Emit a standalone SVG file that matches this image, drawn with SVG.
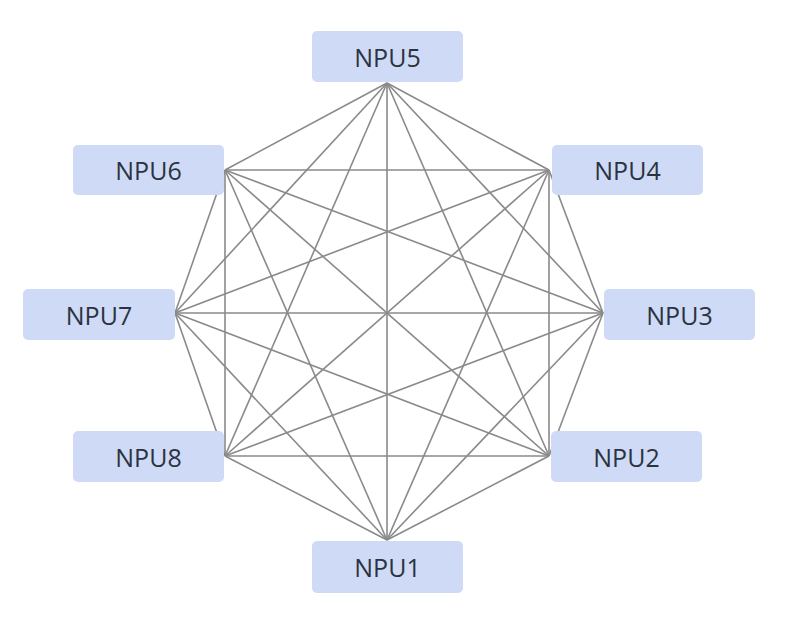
<svg xmlns="http://www.w3.org/2000/svg" width="792" height="640" viewBox="0 0 792 640">
<style>
.box{fill:#cfdbf6;}
.lbl{font-family:"Open Sans","Noto Sans",sans-serif;font-size:25px;fill:#2b3340;text-anchor:middle;dominant-baseline:central;}
.e{stroke:#8a8a8a;stroke-width:1.6;fill:none;}
</style>
<rect width="792" height="640" fill="#ffffff"/>
<g id="connectors">
<line class="e" x1="387" y1="540" x2="549" y2="456"/>
<line class="e" x1="387" y1="540" x2="603" y2="313"/>
<line class="e" x1="387" y1="540" x2="549" y2="170"/>
<line class="e" x1="387" y1="540" x2="387" y2="83"/>
<line class="e" x1="387" y1="540" x2="225" y2="170"/>
<line class="e" x1="387" y1="540" x2="175" y2="313"/>
<line class="e" x1="387" y1="540" x2="225" y2="456"/>
<line class="e" x1="549" y1="456" x2="603" y2="313"/>
<line class="e" x1="549" y1="456" x2="549" y2="170"/>
<line class="e" x1="549" y1="456" x2="387" y2="83"/>
<line class="e" x1="549" y1="456" x2="225" y2="170"/>
<line class="e" x1="549" y1="456" x2="175" y2="313"/>
<line class="e" x1="549" y1="456" x2="225" y2="456"/>
<line class="e" x1="603" y1="313" x2="549" y2="170"/>
<line class="e" x1="603" y1="313" x2="387" y2="83"/>
<line class="e" x1="603" y1="313" x2="225" y2="170"/>
<line class="e" x1="603" y1="313" x2="175" y2="313"/>
<line class="e" x1="603" y1="313" x2="225" y2="456"/>
<line class="e" x1="549" y1="170" x2="387" y2="83"/>
<line class="e" x1="549" y1="170" x2="225" y2="170"/>
<line class="e" x1="549" y1="170" x2="175" y2="313"/>
<line class="e" x1="549" y1="170" x2="225" y2="456"/>
<line class="e" x1="387" y1="83" x2="225" y2="170"/>
<line class="e" x1="387" y1="83" x2="175" y2="313"/>
<line class="e" x1="387" y1="83" x2="225" y2="456"/>
<line class="e" x1="225" y1="170" x2="175" y2="313"/>
<line class="e" x1="225" y1="170" x2="225" y2="456"/>
<line class="e" x1="175" y1="313" x2="225" y2="456"/>
</g>
<g id="npu5"><rect class="box" x="312" y="31" width="151" height="51" rx="5"/><text class="lbl" x="387.5" y="56.5">NPU5</text></g>
<g id="npu4"><rect class="box" x="552" y="145" width="151" height="50" rx="5"/><text class="lbl" x="627.5" y="170">NPU4</text></g>
<g id="npu3"><rect class="box" x="604" y="289" width="151" height="51" rx="5"/><text class="lbl" x="679.5" y="314.5">NPU3</text></g>
<g id="npu2"><rect class="box" x="551" y="431" width="151" height="51" rx="5"/><text class="lbl" x="626.5" y="456.5">NPU2</text></g>
<g id="npu1"><rect class="box" x="312" y="541" width="151" height="52" rx="5"/><text class="lbl" x="387.5" y="567">NPU1</text></g>
<g id="npu8"><rect class="box" x="73" y="431" width="151" height="51" rx="5"/><text class="lbl" x="148.5" y="456.5">NPU8</text></g>
<g id="npu7"><rect class="box" x="23" y="289" width="152" height="51" rx="5"/><text class="lbl" x="99" y="314.5">NPU7</text></g>
<g id="npu6"><rect class="box" x="73" y="145" width="151" height="50" rx="5"/><text class="lbl" x="148.5" y="170">NPU6</text></g>
</svg>
